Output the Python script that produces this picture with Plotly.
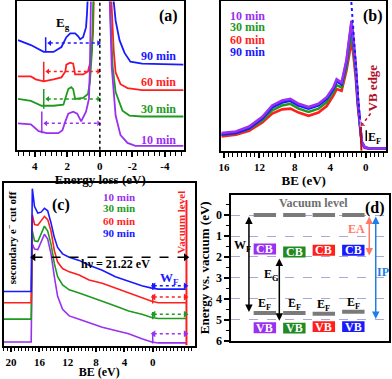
import plotly.graph_objects as go

W, H = 392, 379
SERIF = "Liberation Serif"
PURPLE = "#9a30f0"
GREEN = "#1f9a1f"
RED = "#ff1f1f"
BLUE = "#1a1aff"
BOXGREEN = "#218a21"
GRAY = "#7a7a7a"
DARKRED = "#b0102a"
SALMON = "#ff7a66"
IPBLUE = "#1f7fe6"

samples = ["10 min", "30 min", "60 min", "90 min"]
colors = [PURPLE, GREEN, RED, BLUE]

# ---- (a) energy loss spectra (left branch, zero loss peak, right branch)
a_e_10 = [5.03, 4.24, 3.76, 3.27, 2.55, 2.3, 2.12, 1.94, 1.64, 1.39, 1.15, 0.85, 0.67, 0.61, 0.55, 0.0,
          -0.61, -0.73, -0.97, -1.27, -1.7, -2.18, -5.15]
a_i_10 = [27, 26, 19, 17, 17, 20, 29, 37, 39, 37, 29, 39, 52, 85, 152, 420, 152, 85, 35, 15, 7, 4, 4]
a_e_30 = [5.03, 4.24, 3.58, 2.85, 2.24, 2.06, 1.94, 1.76, 1.64, 1.52, 1.03, 0.73, 0.61, 0.48, 0.36, 0.0,
          -0.61, -0.79, -0.97, -1.39, -1.82, -2.6, -5.15]
a_i_30 = [52, 50, 45, 45, 46, 55, 62, 64, 62, 52, 53, 57, 69, 102, 152, 420, 152, 85, 59, 40, 35, 34, 34]
a_e_60 = [5.03, 4.24, 3.94, 3.45, 2.85, 2.36, 2.12, 2.06, 1.82, 1.64, 1.52, 1.03, 0.73, 0.55, 0.42, 0.36, 0.0,
          -0.71, -0.85, -0.97, -1.27, -1.7, -2.6, -5.15]
a_i_60 = [75, 75, 72, 70, 72, 74, 80, 87, 89, 88, 77, 77, 80, 92, 119, 152, 420, 152, 102, 79, 67, 63, 61, 61]
a_e_90 = [5.03, 4.24, 3.45, 2.85, 2.36, 2.06, 1.82, 1.52, 1.33, 1.21, 1.03, 0.85, 0.79, 0.73, 0.0,
          -0.85, -0.97, -1.21, -1.52, -1.88, -2.6, -5.15]
a_i_90 = [112, 107, 100, 100, 105, 115, 119, 119, 116, 113, 115, 125, 139, 152, 420, 152, 132, 112, 99, 90, 88, 87]
a_eg = [3.57, 3.45, 3.45, 3.33]          # band gap onset marks
a_eg_lo = [17, 42, 70, 100]
a_eg_hi = [39, 62, 90, 115]
a_arrow_lvl = [27, 52, 80, 109]
a_label_lvl = [10, 42, 69, 96]

# ---- (b) valence band spectra
b_e = [16.3, 14.65, 13.16, 11.67, 10.55, 9.43, 8.5, 7.57, 6.45, 5.33, 4.4, 3.65, 3.28, 2.72, 2.16,
       1.79, 1.6, 1.45, 1.12, 0.89, 0.67, 0.45, 0.11, -0.45, -2.3]
b_10 = [18, 19.7, 24.7, 34.7, 46.3, 51.3, 53, 48, 44.7, 48, 54.7, 64.7, 73, 69.7, 93,
        119.7, 133, 119.7, 86.3, 53, 26.3, 9.7, 3.7, 2.3, 2.3]
b_30 = [16.3, 18, 22.3, 31.3, 41.3, 46.3, 48, 43, 39.7, 43, 49.7, 60.3, 67, 64.7, 86.3,
        109.7, 121.3, 109.7, 79.7, 49.7, 24.7, 9, 3.7, 2.3, 2.3]
b_60 = [14.7, 16.3, 20.3, 29, 38, 42.3, 43, 39, 35.7, 39, 45.7, 56.3, 63, 61.3, 82.3,
        103, 111.3, 103, 74.7, 46.3, 23, 8, 3, 2, 2]
b_90 = [16.7, 18.3, 23, 33, 44.3, 49.3, 51, 46.3, 43, 46.3, 53, 63, 71, 67.7, 91,
        117.7, 131, 117.7, 84.7, 51.3, 25.3, 9, 3.3, 2.3, 2.3]
b_edge_e = [1.62, 0.5]
b_edge_i = [152, 12]

# ---- (c) UPS secondary electron cut-off spectra
c_e = [21.0, 17.16, 17.0, 16.69, 16.22, 15.76, 15.29, 14.83, 14.36, 13.89, 13.43, 12.73, 11.79,
       10.39, 8.99, 7.13, 5.27, 3.4, 1.54, 0.14, -0.79, -4.76]
c_10 = [3.7, 3.7, 103.7, 98.7, 98, 106.3, 113.7, 108.7, 93.7, 70.3, 50.3, 37, 30.3, 27, 23.7,
        18.7, 15.3, 12, 7, 3.7, 2.7, 2.7]
c_30 = [27, 27, 117, 107, 106.3, 113.7, 122, 117, 103.7, 83.7, 70.3, 62, 57, 53.7, 50.3,
        45.3, 40.3, 35.3, 32, 28.7, 27.7, 27.7]
c_60 = [43.7, 43.7, 133.7, 123.7, 123, 127, 132, 128.7, 117, 97, 85.3, 78.7, 75.3, 72, 67,
        63.7, 58.7, 53.7, 48.7, 45.3, 43.7, 43.7]
c_90 = [55.3, 55.3, 160.3, 142, 135.3, 136.3, 140.3, 137.7, 125.3, 110.3, 100.3, 93.7, 90.3, 87, 82,
        77, 70.3, 65.3, 61, 58.7, 57.7, 57.7]
c_cutoff = 16.83
c_vacuum = -4.76
c_wf_lvl = [12, 32, 49.7, 61]
c_wf_lo = [2, 27, 43, 57]
c_wf_hi = [13.7, 34.3, 52, 64]

# ---- (d) energy levels vs vacuum (eV)
d_pos = [1, 2, 3, 4]
d_cb = [1.62, 1.76, 1.68, 1.68]
d_vb = [5.38, 5.4, 5.33, 5.33]
d_ef = [4.68, 4.68, 4.71, 4.62]
d_vac = 0.0
d_eg = [2.0, 5.05]
d_ea = [0.0, 1.93]
d_ip = [0.0, 4.96]

fig = go.Figure()


def px_dom(a, b, total):
    return [a / total, b / total]


def py_dom(top, bot):
    return [1 - bot / H, 1 - top / H]


def line(x, y, color, xa, ya, width=1.5, dash=None):
    fig.add_trace(go.Scatter(x=x, y=y, mode="lines", xaxis=xa, yaxis=ya,
                             line=dict(color=color, width=width, dash=dash),
                             showlegend=False, hoverinfo="skip"))


def dotted_arrow(xl, xr, y, color, xa, ya, dash="dot", size=6):
    fig.add_trace(go.Scatter(x=[xl, xr], y=[y, y], mode="lines+markers", xaxis=xa, yaxis=ya,
                             line=dict(color=color, width=1.5, dash=dash),
                             marker=dict(symbol=["triangle-left", "triangle-right"], size=size, color=color),
                             showlegend=False, hoverinfo="skip"))


def text(x, y, s, xr, yr, size=12, color="black", angle=0, xanchor="center"):
    fig.add_annotation(x=x, y=y, xref=xr, yref=yr, text="<b>" + s + "</b>", showarrow=False,
                       textangle=angle, xanchor=xanchor, yanchor="middle", borderpad=0,
                       font=dict(family=SERIF, size=size, color=color))


def arrow2(x, y0, y1, color, xr, yr):
    fig.add_annotation(x=x, y=y1, ax=x, ay=y0, xref=xr, yref=yr, axref=xr, ayref=yr, text="",
                       showarrow=True, arrowhead=2, startarrowhead=2, arrowside="end+start",
                       arrowsize=1, arrowwidth=1.5, arrowcolor=color)


# ---------------- (a)
for e, i, c in [(a_e_90, a_i_90, BLUE), (a_e_60, a_i_60, RED), (a_e_30, a_i_30, GREEN), (a_e_10, a_i_10, PURPLE)]:
    line(e, i, c, "x", "y", width=1.8)
for k in range(4):
    line([a_eg[k], a_eg[k]], [a_eg_lo[k], a_eg_hi[k]], colors[k], "x", "y", width=1.5)
    dotted_arrow(a_eg[k] - 0.25, 0.08, a_arrow_lvl[k], colors[k], "x", "y", size=5)
    text(-4.75, a_label_lvl[k], samples[k], "x", "y", size=12, color=colors[k], xanchor="right")
fig.add_shape(type="line", x0=0, x1=0, y0=0, y1=1, xref="x", yref="y domain",
              line=dict(color="black", width=1.5, dash="dot"))
text(-4.2, 137, "(a)", "x", "y", size=16)
text(2.25, 129, "E<sub>g</sub>", "x", "y", size=13)

# ---------------- (b)
for v, c in [(b_60, RED), (b_30, GREEN), (b_90, BLUE), (b_10, PURPLE)]:
    line(b_e, v, c, "x2", "y2", width=2.6)
line(b_edge_e, b_edge_i, BLUE, "x2", "y2", width=2, dash="dot")
line([0.58, 0.48], [26, 0], DARKRED, "x2", "y2", width=2)
fig.add_trace(go.Scatter(x=[-0.55, 0.37], y=[38, 27], mode="lines+markers", xaxis="x2", yaxis="y2",
                         line=dict(color=DARKRED, width=1.5, dash="dot"),
                         marker=dict(symbol=["circle", "triangle-sw"], size=[0, 7], color=DARKRED),
                         showlegend=False, hoverinfo="skip"))
text(-0.75, 64, "VB edge", "x2", "y2", size=13, color=DARKRED, angle=-90)
line([-0.07, -0.07], [10, 21], "black", "x2", "y2", width=1.5)
text(-1.0, 13, "E<sub>F</sub>", "x2", "y2", size=12)
for k, lvl in enumerate([138, 126, 113, 101]):
    text(15.4, lvl, samples[k], "x2", "y2", size=12, color=colors[k], xanchor="left")
text(-0.8, 138, "(b)", "x2", "y2", size=16)

# ---------------- (c)
for v, c in [(c_10, PURPLE), (c_30, GREEN), (c_60, RED), (c_90, BLUE)]:
    line(c_e, v, c, "x3", "y3", width=1.6)
line([c_vacuum, c_vacuum], [0, 148.7], RED, "x3", "y3", width=2)
dotted_arrow(c_cutoff, c_vacuum + 0.1, 90.3, "black", "x3", "y3", dash="dash", size=7)
for k in range(4):
    line([0, 0], [c_wf_lo[k], c_wf_hi[k]], colors[k], "x3", "y3", width=1.5)
    dotted_arrow(-0.15, c_vacuum + 0.15, c_wf_lvl[k], colors[k], "x3", "y3", size=6)
text(5.3, 83.5, "hν = 21.22 eV", "x3", "y3", size=12)
text(19.95, 110, "secondary e<sup>−</sup> cut off", "x3", "y3", size=11, angle=-90)
text(-4.05, 126, "Vacuum level", "x3", "y3", size=11, color=RED, angle=-90)
text(-2.4, 69, "W<sub>F</sub>", "x3", "y3", size=13, color=BLUE)
for k, lvl in enumerate([152, 140.3, 127.7, 115.3]):
    text(4.75, lvl, samples[k], "x3", "y3", size=11, color=colors[k])
text(13.0, 143.7, "(c)", "x3", "y3", size=16)

# ---------------- (d)
hw, hh = 0.38, 0.26
box_colors = [PURPLE, BOXGREEN, RED, BLUE]
for k, x in enumerate(d_pos):
    for lvl in (d_vac, d_ef[k]):
        fig.add_shape(type="line", x0=x - hw, x1=x + hw, y0=lvl, y1=lvl, xref="x4", yref="y4",
                      line=dict(color=GRAY, width=4))
    for lvl, lab in ((d_cb[k], "CB"), (d_vb[k], "VB")):
        fig.add_shape(type="rect", x0=x - hw, x1=x + hw, y0=lvl - hh, y1=lvl + hh, xref="x4", yref="y4",
                      line=dict(width=0), fillcolor=box_colors[k])
        text(x, lvl, lab, "x4", "y4", size=12, color="white")
    text(x, d_ef[k] - 0.42, "E<sub>F</sub>", "x4", "y4", size=12)
arrow2(0.46, d_vac, d_ef[0] - 0.05, "black", "x4", "y4")
arrow2(1.49, d_eg[0], d_eg[1], "black", "x4", "y4")
arrow2(4.54, d_ea[0], d_ea[1], SALMON, "x4", "y4")
arrow2(4.76, d_ip[0], d_ip[1], IPBLUE, "x4", "y4")
text(0.23, 1.46, "W<sub>F</sub>", "x4", "y4", size=12)
text(1.21, 2.86, "E<sub>G</sub>", "x4", "y4", size=12)
text(4.1, 0.67, "EA", "x4", "y4", size=12, color=SALMON)
text(5.0, 2.72, "IP", "x4", "y4", size=12, color=IPBLUE)
text(2.66, -0.56, "Vacuum level", "x4", "y4", size=12, color="#6e6e6e")
text(4.74, -0.33, "(d)", "x4", "y4", size=16)

axis_common = dict(showline=True, mirror=True, linecolor="black", linewidth=1.5, showgrid=False,
                   zeroline=False)
tickfont = dict(family=SERIF, size=11, color="black", weight="bold")
titlefont = dict(family=SERIF, size=13, color="black", weight="bold")


def xaxis(dom, rng, vals, anchor, title, minor_dtick, tsize=13):
    return dict(domain=dom, range=rng, anchor=anchor, tickmode="array", tickvals=vals,
                ticktext=[str(v) for v in vals], ticks="outside", ticklen=5, tickwidth=1.5,
                tickcolor="black", tickfont=tickfont,
                minor=dict(tickmode="linear", tick0=0, dtick=minor_dtick, ticks="outside",
                           ticklen=4, tickwidth=1.2, tickcolor="black"),
                title=dict(text=title, font=dict(titlefont, size=tsize), standoff=0),
                **axis_common)


def yhidden(dom, rng, anchor):
    return dict(domain=dom, range=rng, anchor=anchor, showticklabels=False, ticks="", **axis_common)


fig.update_layout(
    width=W, height=H, margin=dict(l=0, r=0, t=0, b=0),
    paper_bgcolor="white", plot_bgcolor="white", showlegend=False,
    font=dict(family=SERIF, color="black"),
    xaxis=xaxis(px_dom(14, 182, W), [5.1, -5.15], [4, 2, 0, -2, -4], "y", "Energy loss (eV)", 1 / 3),
    yaxis=yhidden(py_dom(0.5, 152), [0, 151.5], "x"),
    xaxis2=xaxis(px_dom(220, 386, W), [16.3, -2.3], [16, 12, 8, 4, 0], "y2", "BE (eV)", 0.5),
    yaxis2=yhidden(py_dom(0.5, 153), [0, 152.5], "x2"),
    xaxis3=xaxis(px_dom(1, 193, W), [21.0, -5.9], [20, 16, 12, 8, 4, 0], "y3", "BE (eV)", 0.5,
                 tsize=12),
    yaxis3=yhidden(py_dom(186, 352), [0, 166], "x3"),
    xaxis4=dict(domain=px_dom(230, 389, W), range=[-0.14, 5.21], anchor="y4", showticklabels=False,
                ticks="", **axis_common),
    yaxis4=dict(domain=py_dom(198, 347), range=[6, -0.97], anchor="x4", tickmode="array",
                tickvals=[0, 1, 2, 3, 4, 5, 6], ticks="outside", ticklen=5, tickwidth=1.5,
                tickcolor="black", tickfont=dict(tickfont, size=12),
                minor=dict(tickmode="linear", tick0=0, dtick=0.5, ticks="outside", ticklen=3,
                           tickwidth=1.2, tickcolor="black"),
                title=dict(text="Energy vs. vacuum (eV)", font=titlefont, standoff=4),
                showline=True, mirror=True, linecolor="black", linewidth=1.5, zeroline=False,
                showgrid=True, gridcolor="#a9a9d6", griddash="dash", gridwidth=1),
)

# the page body has a default 8px margin; drop it so the figure sits at the window corner
fig.write_html("out.html", config={"displayModeBar": False},
               post_script="document.body.style.margin='0px';")
